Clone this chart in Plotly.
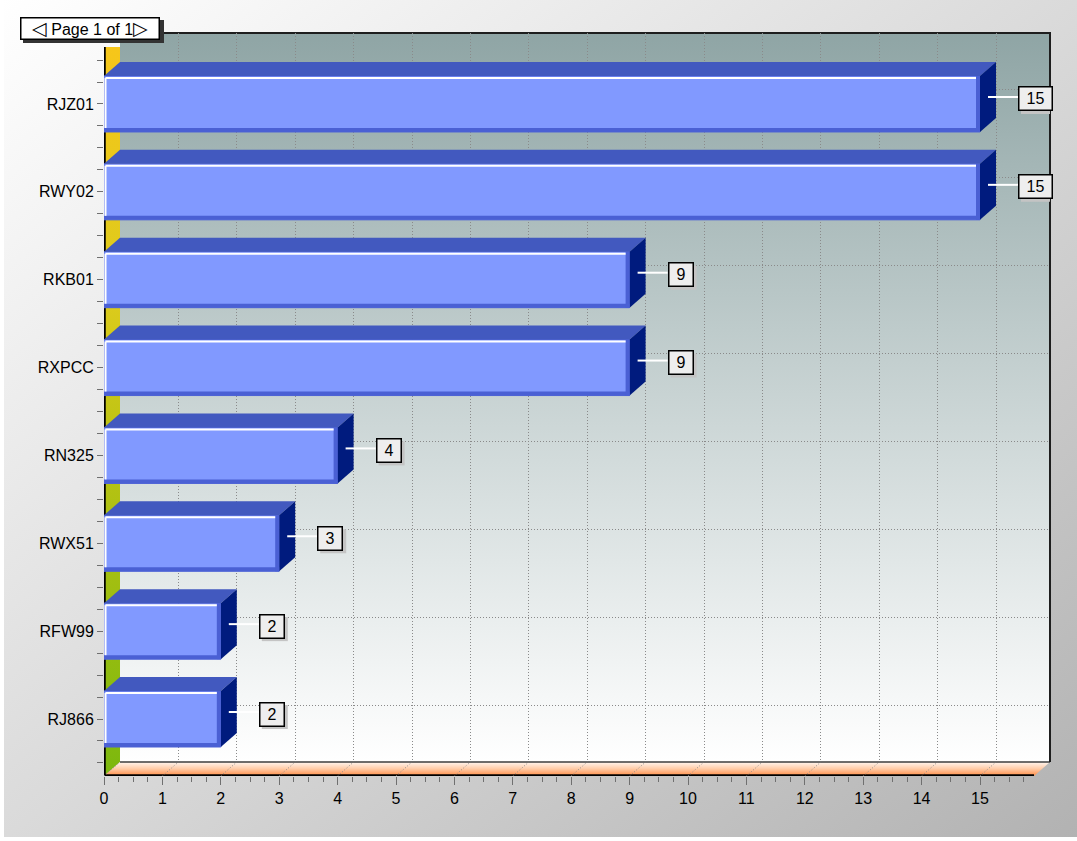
import base64
import plotly.graph_objects as go

# ---- data -------------------------------------------------------------
categories = ["RJZ01", "RWY02", "RKB01", "RXPCC", "RN325", "RWX51", "RFW99", "RJ866"]
values = [15, 15, 9, 9, 4, 3, 2, 2]
x_tick_values = list(range(0, 16))
page_text = "Page 1 of 1"

# ---- canvas / 3D frame geometry (pixels) ---------------------------------
W, H = 1077, 841
ML, MR, MT, MB = 104, 27, 33, 65
PW, PH = W - ML - MR, H - MT - MB          # plot area
DX, DY = 16, 14                            # depth of the 3D box
PPX = 58.4                                 # pixels per value unit
PPY = 87.86                                # pixels per category row
ROW0 = 57 / PPY                            # centre of the lowest row
BAR_W = 56 / PPY                           # bar thickness in row units

FONT = "Liberation Sans, Arial, sans-serif"
GRID = "#8a8a8a"

n = len(categories)
centers = [ROW0 + (n - 1 - i) for i in range(n)]
dxu, dyu = DX / PPX, DY / PPY
px_x, px_y = 1 / PPX, 1 / PPY
front_w = (PW - DX) / PPX
front_h = (PH - DY) / PPY

# ---- background (page, back wall, side wall, floor) as an SVG image -----
fx0, fyb = ML, H - MB
bx0, byb = ML + DX, H - MB - DY
bx1, byt = W - MR, MT
fx1, fyt = W - MR - DX, MT + DY

svg = f'''<svg xmlns="http://www.w3.org/2000/svg" width="{W}" height="{H}" viewBox="0 0 {W} {H}" preserveAspectRatio="none">
<defs>
<linearGradient id="pg" x1="0" y1="0" x2="1" y2="1">
<stop offset="0" stop-color="#ffffff"/><stop offset="0.5" stop-color="#dadada"/><stop offset="1" stop-color="#b2b2b2"/></linearGradient>
<linearGradient id="wall" x1="0" y1="0" x2="0" y2="1">
<stop offset="0" stop-color="#8fa5a5"/><stop offset="0.45" stop-color="#c3cfcf"/><stop offset="1" stop-color="#ffffff"/></linearGradient>
<linearGradient id="lw" x1="0" y1="0" x2="0" y2="1">
<stop offset="0" stop-color="#f6c61a"/><stop offset="0.35" stop-color="#dccb1c"/><stop offset="0.55" stop-color="#bbc313"/><stop offset="1" stop-color="#7cb80e"/></linearGradient>
<linearGradient id="fl" x1="0" y1="0" x2="0" y2="1">
<stop offset="0" stop-color="#fff6f0"/><stop offset="0.5" stop-color="#ffc9a4"/><stop offset="1" stop-color="#ff8c44"/></linearGradient>
</defs>
<rect x="0" y="0" width="{W}" height="{H}" fill="url(#pg)"/>
<rect x="0" y="0" width="4" height="{H}" fill="#ffffff"/>
<rect x="0" y="{H-4}" width="{W}" height="4" fill="#ffffff"/>
<rect x="{bx0}" y="{byt}" width="{bx1-bx0}" height="{byb-byt}" fill="url(#wall)"/>
<polygon points="{fx0},{fyt} {bx0},{fyt} {bx0},{byb} {fx0},{fyb}" fill="url(#lw)"/>
<polygon points="{fx0},{fyb} {bx0},{byb} {bx1},{byb} {fx1},{fyb}" fill="url(#fl)"/>
<line x1="{bx0}" y1="{byb}" x2="{bx1}" y2="{byb}" stroke="#3c3c3c" stroke-width="1.5"/>
<polyline points="{bx0+30},{byt} {bx1},{byt} {bx1},{byb}" fill="none" stroke="#1e1e1e" stroke-width="2"/>
</svg>'''
bg_src = "data:image/svg+xml;base64," + base64.b64encode(svg.encode("utf-8")).decode("ascii")

fig = go.Figure()

# back-wall subplot only carries the dotted grid
fig.add_trace(go.Scatter(x=[], y=[], xaxis="x", yaxis="y", showlegend=False, hoverinfo="skip"))

# front faces of the bars
fig.add_trace(go.Bar(
    y=centers, x=values, orientation="h", xaxis="x2", yaxis="y2",
    width=BAR_W, base=0,
    marker=dict(color="#8199ff", line=dict(color="#4d62d6", width=1)),
    hoverinfo="skip", showlegend=False,
))

shapes = []
annotations = []

# front axis lines
shapes.append(dict(type="line", xref="x2", yref="y2", x0=0, x1=0, y0=0, y1=front_h,
                   line=dict(color="#000000", width=3.5), layer="below"))
shapes.append(dict(type="line", xref="x2", yref="y2", x0=0, x1=front_w, y0=0, y1=0,
                   line=dict(color="#000000", width=3.5), layer="below"))

# dotted floor lines from each front tick to the back wall
for k in x_tick_values:
    shapes.append(dict(type="line", xref="x2", yref="y2", x0=k, y0=0, x1=k + dxu, y1=dyu,
                       line=dict(color=GRID, width=1, dash="1px,2px"), layer="below"))

# 3D faces, bevels, leader lines and value boxes
for c, v in zip(centers, values):
    y0, y1 = c - BAR_W / 2, c + BAR_W / 2
    # top face
    shapes.append(dict(type="path", xref="x2", yref="y2", layer="above",
                       path=f"M 0 {y1} L {dxu} {y1+dyu} L {v+dxu} {y1+dyu} L {v} {y1} Z",
                       fillcolor="#4259bf", line=dict(width=0)))
    # side face
    shapes.append(dict(type="path", xref="x2", yref="y2", layer="above",
                       path=f"M {v} {y0} L {v} {y1} L {v+dxu} {y1+dyu} L {v+dxu} {y0+dyu} Z",
                       fillcolor="#001b7e", line=dict(width=0)))
    # darker bottom and right bevel
    shapes.append(dict(type="rect", xref="x2", yref="y2", layer="above",
                       x0=0, x1=v, y0=y0, y1=y0 + 4 * px_y,
                       fillcolor="#4a60d4", line=dict(width=0)))
    shapes.append(dict(type="rect", xref="x2", yref="y2", layer="above",
                       x0=v - 4 * px_x, x1=v, y0=y0, y1=y1,
                       fillcolor="#4a60d4", line=dict(width=0)))
    # white highlight on top and left edges
    shapes.append(dict(type="line", xref="x2", yref="y2", layer="above",
                       x0=1.5 * px_x, x1=v - 4 * px_x, y0=y1 - 2 * px_y, y1=y1 - 2 * px_y,
                       line=dict(color="#ffffff", width=2)))
    shapes.append(dict(type="line", xref="x2", yref="y2", layer="above",
                       x0=1.5 * px_x, x1=1.5 * px_x, y0=y0 + 4 * px_y, y1=y1 - 2 * px_y,
                       line=dict(color="#ffffff", width=2)))
    # leader line from the mid-depth of the bar end to the value box
    ly = c + dyu / 2
    shapes.append(dict(type="line", xref="x2", yref="y2", layer="above",
                       x0=v + dxu / 2, x1=v + 38 * px_x, y0=ly, y1=ly,
                       line=dict(color="#ffffff", width=2)))

    txt = str(v)
    bw = 9 * len(txt) + 17
    # drop shadow of the value box (pixel sized, anchored at the bar end)
    shapes.append(dict(type="rect", xref="x2", yref="y2", layer="above",
                       xsizemode="pixel", ysizemode="pixel", xanchor=v, yanchor=c,
                       x0=41, x1=41 + bw, y0=-10, y1=14,
                       fillcolor="#c4c4c4", line=dict(width=0)))
    annotations.append(dict(xref="x2", yref="y2", x=v, y=c, xanchor="left", yanchor="middle",
                            xshift=38, yshift=5, showarrow=False, text=txt,
                            width=bw - 5, height=20, borderpad=1, borderwidth=1.5,
                            bgcolor="#eeeeee", bordercolor="#000000",
                            font=dict(family=FONT, size=16, color="#000000")))

# page navigator box with drop shadow
pg_x = (20 - ML) / PW
pg_y = (H - MB - 17) / PH
shapes.append(dict(type="rect", xref="paper", yref="paper", layer="above",
                   x0=(23 - ML) / PW, x1=(164 - ML) / PW,
                   y0=(H - MB - 43) / PH, y1=(H - MB - 20) / PH,
                   fillcolor="#333333", line=dict(width=0)))
tri = '<span style="font-size:19px">{}</span>'
annotations.append(dict(xref="paper", yref="paper", x=pg_x, y=pg_y, xanchor="left", yanchor="top",
                        showarrow=False, width=137, height=20, borderpad=0, borderwidth=1.5,
                        valign="middle",
                        text=tri.format("\u25c1") + " " + page_text + tri.format("\u25b7"),
                        bgcolor="#ffffff", bordercolor="#000000",
                        font=dict(family=FONT, size=16, color="#000000")))

quarter_x = [q / 4 for q in range(0, int(front_w * 4) + 1) if q % 4 != 0]
quarter_y = [ROW0 - 0.5 + q / 4 for q in range(0, 4 * n + 1) if q % 4 != 2]

fig.update_layout(
    width=W, height=H,
    margin=dict(l=ML, r=MR, t=MT, b=MB, pad=0),
    paper_bgcolor="#d8d8d8", plot_bgcolor="rgba(0,0,0,0)",
    showlegend=False,
    font=dict(family=FONT, size=16, color="#000000"),
    images=[dict(source=bg_src, xref="paper", yref="paper",
                 x=-ML / PW, y=1 + MT / PH, sizex=W / PW, sizey=H / PH,
                 xanchor="left", yanchor="top", sizing="stretch", layer="below")],
    xaxis=dict(domain=[DX / PW, 1], range=[0, (PW - DX) / PPX], anchor="y",
               tickmode="array", tickvals=x_tick_values, showticklabels=False, ticks="",
               showgrid=True, gridcolor=GRID, griddash="1px,2px", gridwidth=1,
               zeroline=False, showline=False, fixedrange=True),
    yaxis=dict(domain=[DY / PH, 1], range=[0, (PH - DY) / PPY], anchor="x",
               tickmode="array", tickvals=centers, showticklabels=False, ticks="",
               showgrid=True, gridcolor=GRID, griddash="1px,2px", gridwidth=1,
               zeroline=False, showline=False, fixedrange=True),
    xaxis2=dict(domain=[0, 1], range=[0, PW / PPX], anchor="y2",
                tickmode="array", tickvals=x_tick_values, ticktext=[str(t) for t in x_tick_values],
                ticks="outside", ticklen=8, tickwidth=1, tickcolor="#707070",
                minor=dict(tickmode="array", tickvals=quarter_x, ticks="outside",
                           ticklen=5, tickwidth=1, tickcolor="#707070", showgrid=False),
                tickfont=dict(family=FONT, size=16, color="#000000"),
                showgrid=False, zeroline=False, showline=False, fixedrange=True, automargin=False),
    yaxis2=dict(domain=[0, 1], range=[0, PH / PPY], anchor="x2",
                tickmode="array", tickvals=centers, ticktext=categories,
                ticks="outside", ticklen=6, tickwidth=1, tickcolor="#707070",
                minor=dict(tickmode="array", tickvals=quarter_y, ticks="outside",
                           ticklen=6, tickwidth=1, tickcolor="#707070", showgrid=False),
                tickfont=dict(family=FONT, size=16, color="#000000"),
                showgrid=False, zeroline=False, showline=False, fixedrange=True, automargin=False),
    shapes=shapes,
    annotations=annotations,
)

fig.write_html("out.html", include_plotlyjs=True, config={"displayModeBar": False})
